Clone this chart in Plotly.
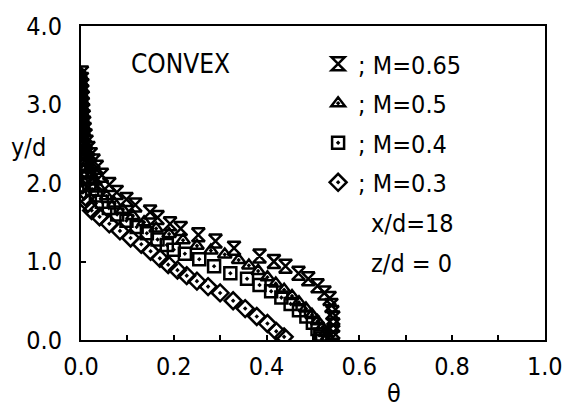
import plotly.graph_objects as go

# Temperature profiles theta vs y/d, convex wall, x/d = 18, z/d = 0
theta_m065 = [0.002, 0.002, 0.003, 0.003, 0.004, 0.004, 0.005, 0.006, 0.007, 0.008,
              0.010, 0.012, 0.016, 0.021, 0.027, 0.034, 0.045, 0.061, 0.077, 0.098,
              0.117, 0.149, 0.165, 0.192, 0.215, 0.253, 0.290, 0.330, 0.385, 0.416,
              0.441, 0.469, 0.490, 0.510, 0.525, 0.536, 0.540, 0.542, 0.544, 0.544,
              0.544, 0.542]
yd_m065 = [3.40, 3.32, 3.24, 3.16, 3.08, 3.00, 2.92, 2.84, 2.76, 2.68,
           2.60, 2.52, 2.44, 2.36, 2.28, 2.20, 2.10, 1.98, 1.88, 1.79,
           1.72, 1.63, 1.56, 1.48, 1.42, 1.34, 1.26, 1.17, 1.07, 1.00,
           0.94, 0.85, 0.78, 0.69, 0.60, 0.53, 0.44, 0.35, 0.28, 0.19,
           0.10, 0.03]

theta_m05 = [-0.002, -0.002, -0.001, -0.001, 0.000, 0.000, 0.001, 0.002, 0.003, 0.004,
             0.005, 0.007, 0.009, 0.011, 0.014, 0.018, 0.023, 0.030,
             0.040, 0.055, 0.072, 0.090, 0.112, 0.136, 0.162, 0.190, 0.220, 0.250,
             0.280, 0.310, 0.340, 0.362, 0.382, 0.402, 0.420, 0.438, 0.455, 0.470,
             0.485, 0.498, 0.510, 0.520, 0.527, 0.532]
yd_m05 = [3.38, 3.30, 3.22, 3.14, 3.06, 2.98, 2.90, 2.82, 2.74, 2.66,
          2.58, 2.50, 2.42, 2.34, 2.26, 2.18, 2.10, 2.02,
          1.93, 1.83, 1.74, 1.66, 1.58, 1.50, 1.42, 1.35, 1.27, 1.20,
          1.14, 1.09, 1.02, 0.95, 0.88, 0.80, 0.72, 0.64, 0.56, 0.48,
          0.40, 0.32, 0.24, 0.16, 0.09, 0.03]

theta_m04 = [-0.006, -0.006, -0.005, -0.005, -0.004, -0.004, -0.003, -0.002, -0.001, 0.000,
             0.001, 0.002, 0.004, 0.006, 0.008, 0.011, 0.014, 0.018,
             0.024, 0.032, 0.045, 0.060, 0.078, 0.098, 0.120, 0.142, 0.165, 0.185,
             0.200, 0.224, 0.255, 0.287, 0.322, 0.358, 0.385, 0.410, 0.432, 0.452,
             0.470, 0.486, 0.500, 0.510, 0.516, 0.520]
yd_m04 = [3.36, 3.28, 3.20, 3.12, 3.04, 2.96, 2.88, 2.80, 2.72, 2.64,
          2.56, 2.48, 2.40, 2.32, 2.24, 2.16, 2.08, 2.00,
          1.92, 1.84, 1.76, 1.68, 1.60, 1.52, 1.44, 1.36, 1.28, 1.21,
          1.15, 1.10, 1.03, 0.94, 0.85, 0.78, 0.70, 0.62, 0.54, 0.46,
          0.38, 0.30, 0.22, 0.14, 0.07, 0.02]

theta_m03 = [-0.010, -0.010, -0.009, -0.009, -0.008, -0.008, -0.007, -0.007, -0.006, -0.005,
             -0.004, -0.003, -0.002, -0.001, 0.000, 0.001, 0.002, 0.003, 0.004,
             0.007, 0.010, 0.015, 0.023, 0.040, 0.061, 0.084, 0.107, 0.130, 0.150,
             0.170, 0.188, 0.208, 0.228, 0.250, 0.274, 0.300, 0.328, 0.354, 0.379,
             0.402, 0.421, 0.438]
yd_m03 = [3.42, 3.34, 3.26, 3.18, 3.10, 3.02, 2.94, 2.86, 2.78, 2.70,
          2.62, 2.54, 2.46, 2.38, 2.30, 2.22, 2.14, 2.06, 1.98,
          1.90, 1.82, 1.74, 1.65, 1.57, 1.48, 1.39, 1.30, 1.22, 1.13,
          1.04, 0.96, 0.89, 0.82, 0.75, 0.68, 0.60, 0.50, 0.40, 0.30,
          0.21, 0.11, 0.04]

series = [
    ("; M=0.65", theta_m065, yd_m065, "hourglass-open", 13),
    ("; M=0.5", theta_m05, yd_m05, "triangle-up-open-dot", 12),
    ("; M=0.4", theta_m04, yd_m04, "square-open-dot", 12),
    ("; M=0.3", theta_m03, yd_m03, "diamond-open-dot", 13),
]

x_ticks = [0.0, 0.2, 0.4, 0.6, 0.8, 1.0]
x_tick_text = ["0.0", "0.2", "0.4", "0.6", "0.8", "1.0"]
y_ticks = [0.0, 1.0, 2.0, 3.0, 4.0]
y_tick_text = ["0.0", "1.0", "2.0", "3.0", "4.0"]

FONT = "DejaVu Sans Condensed, DejaVu Sans"
INK = "black"
FS = 25

fig = go.Figure()
for i, (name, xs, ys, sym, sz) in enumerate(series):
    fig.add_trace(go.Scatter(
        x=xs, y=ys, mode="markers", name=name, legendgroup=f"g{i}",
        marker=dict(symbol=sym, size=sz, color=INK, line=dict(color=INK, width=2.5)),
    ))

fig.update_layout(
    width=575, height=414,
    margin=dict(l=81, r=16, t=21, b=74),
    paper_bgcolor="white", plot_bgcolor="white",
    font=dict(family=FONT, size=FS, color=INK),
    showlegend=True,
    legend=dict(
        x=0.511, y=0.952, xanchor="left", yanchor="top",
        bgcolor="rgba(0,0,0,0)", borderwidth=0,
        font=dict(family=FONT, size=FS, color=INK),
        tracegroupgap=4, itemwidth=30,
    ),
    xaxis=dict(
        range=[0, 1.0005], showgrid=False, zeroline=False,
        showline=True, linecolor=INK, linewidth=2, mirror=True,
        tickmode="array", tickvals=x_ticks, ticktext=x_tick_text,
        ticks="inside", ticklen=5, tickwidth=2, tickcolor=INK,
        ticklabelstandoff=3, ticklabeloverflow="allow",
        minor=dict(dtick=0.1, ticks="inside", ticklen=5, tickwidth=2, tickcolor=INK),
        tickfont=dict(family=FONT, size=FS, color=INK),
    ),
    yaxis=dict(
        range=[0, 4.0], showgrid=False, zeroline=False,
        showline=True, linecolor=INK, linewidth=2, mirror=True,
        tickmode="array", tickvals=y_ticks, ticktext=y_tick_text,
        ticks="inside", ticklen=5, tickwidth=2, tickcolor=INK,
        ticklabelstandoff=12,
        tickfont=dict(family=FONT, size=FS, color=INK),
    ),
)

fig.add_annotation(text="CONVEX", x=0.215, y=3.52, xref="x", yref="y",
                   showarrow=False, font=dict(family=FONT, size=FS + 1, color=INK))
fig.add_annotation(text="x/d=18", x=0.62, y=1.48, xref="x", yref="y", xanchor="left",
                   showarrow=False, font=dict(family=FONT, size=FS, color=INK))
fig.add_annotation(text="z/d = 0", x=0.62, y=0.97, xref="x", yref="y", xanchor="left",
                   showarrow=False, font=dict(family=FONT, size=FS, color=INK))
fig.add_annotation(text="y/d", x=-0.155, y=2.45, xref="paper", yref="y", xanchor="left",
                   showarrow=False, font=dict(family=FONT, size=FS, color=INK))
fig.add_annotation(text="θ", x=0.675, y=-0.17, xref="x", yref="paper", yanchor="middle",
                   showarrow=False, font=dict(family=FONT, size=FS, color=INK))

fig.write_html("out.html")
